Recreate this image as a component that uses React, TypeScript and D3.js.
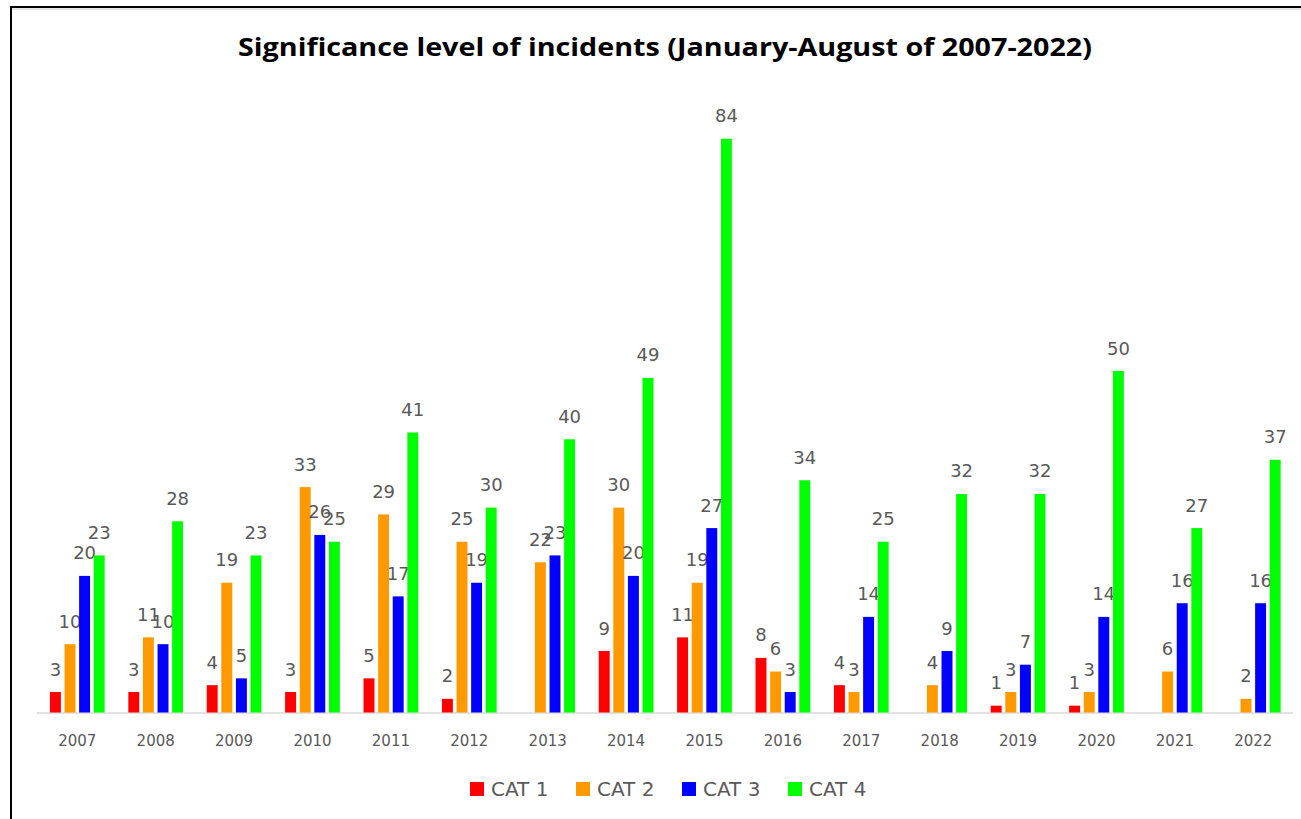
import React from "react";
import * as d3 from "d3";

const years = ["2007","2008","2009","2010","2011","2012","2013","2014","2015","2016","2017","2018","2019","2020","2021","2022"];
const seriesNames = ["CAT 1", "CAT 2", "CAT 3", "CAT 4"];
const seriesColors = ["#ff0000", "#ff9900", "#0000ff", "#00ff00"];
const cat1: (number | null)[] = [3, 3, 4, 3, 5, 2, null, 9, 11, 8, 4, null, 1, 1, null, null];
const cat2: (number | null)[] = [10, 11, 19, 33, 29, 25, 22, 30, 19, 6, 3, 4, 3, 3, 6, 2];
const cat3: (number | null)[] = [20, 10, 5, 26, 17, 19, 23, 20, 27, 3, 14, 9, 7, 14, 16, 16];
const cat4: (number | null)[] = [23, 28, 23, 25, 41, 30, 40, 49, 84, 34, 25, 32, 32, 50, 27, 37];
const seriesValues = [cat1, cat2, cat3, cat4];
const title = "Significance level of incidents (January-August of 2007-2022)";

export default function App() {
  const W = 1301, H = 819;
  const x0 = d3.scaleBand<string>().domain(years).range([38.1, 1292.5]).paddingInner(0).paddingOuter(0);
  const x1 = d3.scaleBand<string>().domain(seriesNames).range([0, x0.bandwidth()]).paddingInner(0.25).paddingOuter(0.81);
  const y = d3.scaleLinear().domain([0, 90]).range([712.5, 712.5 - 90 * 6.83]);
  const labelFont = "'DejaVu Sans', sans-serif";

  return (
    <svg width={W} height={H} style={{ position: "absolute", left: 0, top: 0, background: "#fff" }}>
      <rect x={0} y={0} width={W} height={H} fill="#fff" />
      <path d={`M11,${H} L11,7 L${W},7`} fill="none" stroke="#000" strokeWidth={2} />
      <path d={`M12,9 L${W},9`} fill="none" stroke="#ccc" strokeWidth={1} />
      <text x={665} y={56} textAnchor="middle" fontFamily="'Open Sans', sans-serif" fontWeight="bold" fontSize={25} fill="#000" textLength={854} lengthAdjust="spacingAndGlyphs">{title}</text>
      <line x1={37} x2={1293} y1={713} y2={713} stroke="#d9d9d9" strokeWidth={1.5} />
      {years.map((yr, i) => (
        <g key={yr} transform={`translate(${x0(yr)},0)`}>
          {seriesNames.map((s, j) => {
            const v = seriesValues[j][i];
            if (v === null) return null;
            const bx = x1(s)!;
            const top = y(v);
            return (
              <g key={s}>
                <rect x={bx} y={top} width={x1.bandwidth()} height={y(0) - top} fill={seriesColors[j]} />
                <text x={bx + x1.bandwidth() / 2} y={top - 16.5} textAnchor="middle" fontFamily={labelFont} fontSize={18} fill="#595959">{v}</text>
              </g>
            );
          })}
          <text x={x0.bandwidth() / 2} y={746} textAnchor="middle" fontFamily={labelFont} fontSize={15} fill="#595959">{yr}</text>
        </g>
      ))}
      {seriesNames.map((s, j) => (
        <g key={s} transform={`translate(${470 + j * 106},782)`}>
          <rect x={0} y={0} width={14} height={14} fill={seriesColors[j]} />
          <text x={21} y={13.5} fontFamily={labelFont} fontSize={20} fill="#595959">{s}</text>
        </g>
      ))}
    </svg>
  );
}
